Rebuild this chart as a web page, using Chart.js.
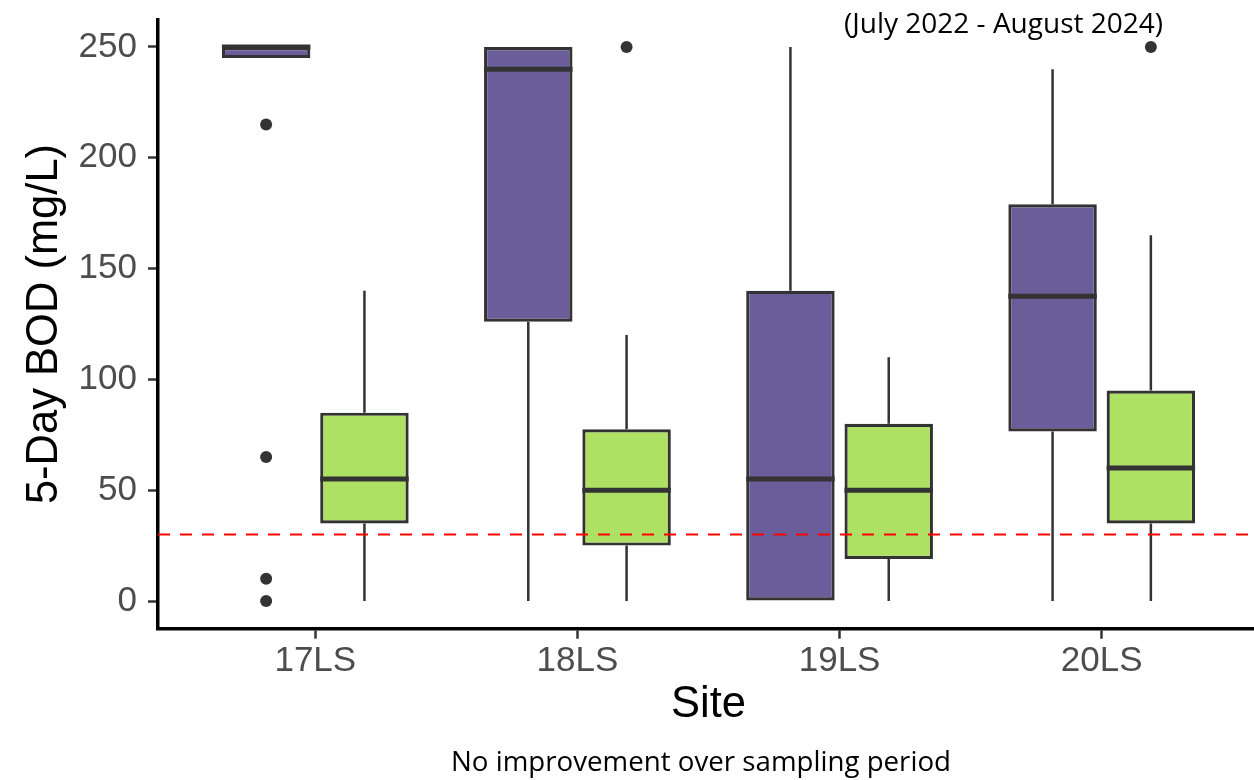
<!DOCTYPE html>
<html>
<head>
<meta charset="utf-8">
<script src="https://cdn.jsdelivr.net/npm/chart.js@4.4.1/dist/chart.umd.min.js"></script>
<style>
  html, body { margin: 0; padding: 0; background: #ffffff; overflow: hidden; }
  #wrap { position: relative; width: 1259px; height: 780px; }
</style>
</head>
<body>
<div id="wrap"><canvas id="bod" width="1259" height="780"></canvas></div>
<script>
// Sites on the x axis and the y tick values
const sites = ['17LS', '18LS', '19LS', '20LS'];
const yTicks = [0, 50, 100, 150, 200, 250];
const threshold = 30; // mg/L reference level

// First group (purple): five-number summary per site + outliers
const aLow = [245, 0, 0, 0];
const aQ1 = [245, 126, 0, 76.5];
const aMed = [250, 240, 55, 137.5];
const aQ3 = [250, 250, 140, 179];
const aHigh = [250, 250, 250, 240];
const aOut = [[215, 65, 10, 0], [], [], []];

// Second group (green)
const bLow = [0, 0, 0, 0];
const bQ1 = [35, 25, 19, 35];
const bMed = [55, 50, 50, 60];
const bQ3 = [85, 77.5, 80, 95];
const bHigh = [140, 120, 110, 165];
const bOut = [[], [250], [], [250]];

const groups = [
  { low: aLow, q1: aQ1, med: aMed, q3: aQ3, high: aHigh, out: aOut, fill: '#6A5D9A' },
  { low: bLow, q1: bQ1, med: bMed, q3: bQ3, high: bHigh, out: bOut, fill: '#AEE163' }
];

const INK = '#333333';
const AXIS_FONT = '"Liberation Sans", Arial, Helvetica, sans-serif';
const NOTE_FONT = '"Open Sans", "Noto Sans", sans-serif';

// Whiskers, medians, outliers and the reference line, positioned from the bar elements and y scale
const boxParts = {
  id: 'boxParts',
  beforeDatasetsDraw(chart) {
    const { ctx } = chart;
    const y = chart.scales.y;
    ctx.save();
    ctx.strokeStyle = INK;
    ctx.lineWidth = 2.5;
    groups.forEach((g, di) => {
      chart.getDatasetMeta(di).data.forEach((bar, i) => {
        const { x } = bar.getProps(['x'], true);
        ctx.beginPath();
        ctx.moveTo(x, y.getPixelForValue(g.high[i]));
        ctx.lineTo(x, y.getPixelForValue(g.q3[i]));
        ctx.moveTo(x, y.getPixelForValue(g.q1[i]));
        ctx.lineTo(x, y.getPixelForValue(g.low[i]));
        ctx.stroke();
      });
    });
    ctx.restore();
  },
  afterDatasetsDraw(chart) {
    const { ctx, chartArea } = chart;
    const y = chart.scales.y;
    ctx.save();
    groups.forEach((g, di) => {
      chart.getDatasetMeta(di).data.forEach((bar, i) => {
        const { x, width } = bar.getProps(['x', 'width'], true);
        const my = y.getPixelForValue(g.med[i]);
        ctx.strokeStyle = INK;
        ctx.lineWidth = 5;
        ctx.beginPath();
        ctx.moveTo(x - width / 2, my);
        ctx.lineTo(x + width / 2, my);
        ctx.stroke();
        ctx.fillStyle = INK;
        g.out[i].forEach(v => {
          ctx.beginPath();
          ctx.arc(x, y.getPixelForValue(v), 6, 0, Math.PI * 2);
          ctx.fill();
        });
      });
    });
    // dashed reference line
    const ty = y.getPixelForValue(threshold);
    ctx.strokeStyle = '#FF0000';
    ctx.lineWidth = 2.2;
    ctx.setLineDash([12, 10]);
    ctx.beginPath();
    ctx.moveTo(chartArea.left, ty);
    ctx.lineTo(chartArea.right, ty);
    ctx.stroke();
    ctx.restore();
  },
  afterDraw(chart) {
    const { ctx } = chart;
    ctx.save();
    ctx.fillStyle = '#000000';
    ctx.textAlign = 'center';
    ctx.textBaseline = 'alphabetic';
    ctx.font = '28px ' + NOTE_FONT;
    ctx.fillText('(July 2022 - August 2024)', 1003.5, 33, 326);
    ctx.fillText('No improvement over sampling period', 701, 771, 500);
    ctx.restore();
  }
};

new Chart(document.getElementById('bod'), {
  type: 'bar',
  data: {
    datasets: groups.map(g => ({
      data: sites.map((s, i) => ({ x: i + 1, y: [g.q1[i], g.q3[i]] })),
      backgroundColor: g.fill,
      borderColor: INK,
      borderWidth: 3.2,
      borderSkipped: false,
      categoryPercentage: 0.75,
      barPercentage: 0.9
    }))
  },
  options: {
    responsive: false,
    animation: false,
    devicePixelRatio: 1,
    layout: { padding: { top: 19.3, right: 0, bottom: 0, left: 0 } },
    plugins: { legend: { display: false }, tooltip: { enabled: false } },
    scales: {
      x: {
        type: 'linear',
        min: 0.4,
        max: 4.6,
        offset: false,
        afterBuildTicks: s => { s.ticks = sites.map((_, i) => ({ value: i + 1 })); },
        afterFit: s => { s.height = 151.3; s.paddingLeft = 0; s.paddingRight = 0; },
        ticks: {
          callback: v => sites[v - 1] ?? '',
          font: { family: AXIS_FONT, size: 35 },
          color: '#4D4D4D',
          padding: 2,
          maxRotation: 0,
          autoSkip: false
        },
        grid: { display: true, drawOnChartArea: false, drawTicks: true, tickLength: 10, tickColor: INK, tickWidth: 2.5, offset: false },
        border: { display: true, color: '#000000', width: 3.5 },
        title: { display: true, text: 'Site', color: '#000000', font: { family: AXIS_FONT, size: 43.5 }, padding: { top: 0, bottom: 48.9 } }
      },
      y: {
        type: 'linear',
        min: -12.5,
        max: 262.5,
        afterBuildTicks: s => { s.ticks = yTicks.map(v => ({ value: v })); },
        afterFit: s => { s.width = 158; s.paddingTop = 0; s.paddingBottom = 0; },
        ticks: {
          font: { family: AXIS_FONT, size: 35 },
          color: '#4D4D4D',
          padding: 11
        },
        grid: { display: true, drawOnChartArea: false, drawTicks: true, tickLength: 10, tickColor: INK, tickWidth: 2.5 },
        border: { display: true, color: '#000000', width: 3.5 },
        title: { display: true, text: '5-Day BOD (mg/L)', color: '#000000', font: { family: AXIS_FONT, size: 43.5 }, padding: { top: 19, bottom: 0 } }
      }
    }
  },
  plugins: [boxParts]
});
</script>
</body>
</html>
